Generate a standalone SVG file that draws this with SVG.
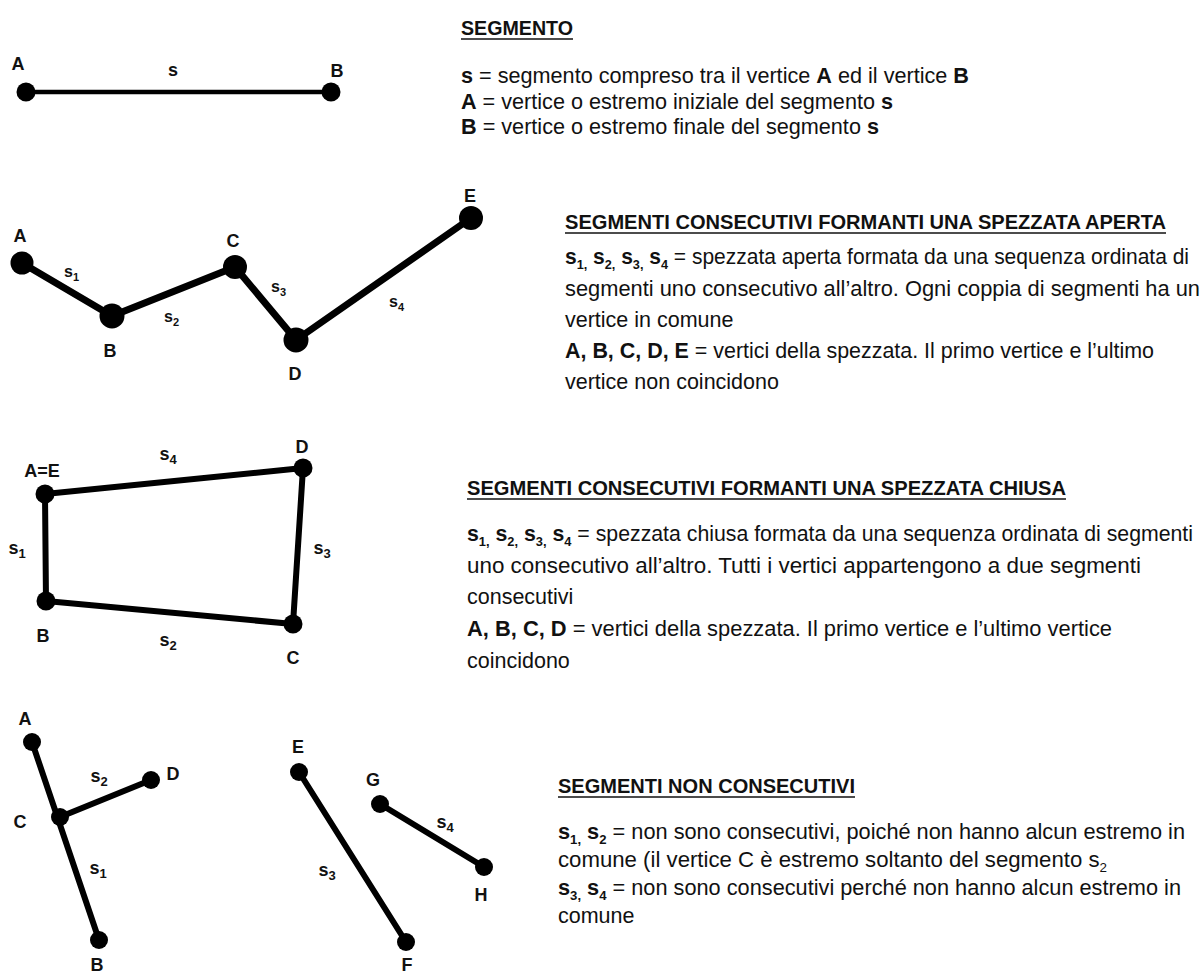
<svg xmlns="http://www.w3.org/2000/svg" width="1201" height="976" viewBox="0 0 1201 976">
<style>
text{font-family:"Liberation Sans",Arial,sans-serif;fill:#111}
.t{font-size:21.5px}
.h{font-size:20px;font-weight:bold}
.b{font-weight:bold}
.sub{font-size:13px;font-weight:bold}
.subr{font-size:13px}
.lab{font-size:18px;font-weight:bold;text-anchor:middle}
.sl{font-size:16px;font-weight:bold}
.ssub{font-size:11px;font-weight:bold}
.ln{stroke:#000;stroke-linecap:round;fill:none}
.dot{fill:#000}
.ul{stroke:#111;stroke-width:1.6}
</style>
<rect width="1201" height="976" fill="#fff"/>

<!-- connectors -->
<g id="connectors">
  <line class="ln" x1="26" y1="92" x2="331" y2="92" stroke-width="4.5"/>
  <polyline class="ln" points="22,263 112,316 235,267 296,340 471,218" stroke-width="7" stroke-linejoin="round"/>
  <polygon class="ln" points="45,494 303,468 293,624 46,601" stroke-width="6" stroke-linejoin="round"/>
  <line class="ln" x1="32" y1="742" x2="99" y2="940" stroke-width="6"/>
  <line class="ln" x1="60" y1="817" x2="151" y2="780" stroke-width="6"/>
  <line class="ln" x1="299" y1="772" x2="406" y2="942" stroke-width="6"/>
  <line class="ln" x1="380" y1="804" x2="484" y2="867" stroke-width="6"/>
</g>

<!-- section 1 figure -->
<g id="fig1">
  <circle class="dot" cx="26" cy="92" r="9.5"/>
  <circle class="dot" cx="331" cy="92" r="9.5"/>
  <text class="lab" x="18" y="70">A</text>
  <text class="lab" x="173" y="76">s</text>
  <text class="lab" x="337" y="77">B</text>
</g>

<!-- section 2 figure -->
<g id="fig2">
  <circle class="dot" cx="22" cy="263" r="11.5"/>
  <circle class="dot" cx="112" cy="316" r="12.5"/>
  <circle class="dot" cx="235" cy="267" r="12"/>
  <circle class="dot" cx="296" cy="340" r="12.5"/>
  <circle class="dot" cx="471" cy="218" r="12"/>
  <text class="lab" x="20" y="242">A</text>
  <text class="lab" x="110" y="357">B</text>
  <text class="lab" x="233" y="247">C</text>
  <text class="lab" x="295" y="380">D</text>
  <text class="lab" x="470" y="202">E</text>
  <text class="sl" x="64" y="277">s<tspan class="ssub" dy="4">1</tspan></text>
  <text class="sl" x="164" y="322">s<tspan class="ssub" dy="4">2</tspan></text>
  <text class="sl" x="271" y="292">s<tspan class="ssub" dy="4">3</tspan></text>
  <text class="sl" x="389" y="307">s<tspan class="ssub" dy="4">4</tspan></text>
</g>

<!-- section 3 figure -->
<g id="fig3">
  <circle class="dot" cx="45" cy="494" r="9.5"/>
  <circle class="dot" cx="303" cy="468" r="9.5"/>
  <circle class="dot" cx="46" cy="601" r="9.5"/>
  <circle class="dot" cx="293" cy="624" r="9.5"/>
  <text class="lab" x="42" y="477">A=E</text>
  <text class="lab" x="302" y="453">D</text>
  <text class="lab" x="43" y="642">B</text>
  <text class="lab" x="293" y="664">C</text>
  <text class="lab" x="168" y="460">s<tspan class="sub" dy="4">4</tspan></text>
  <text class="lab" x="17" y="554">s<tspan class="sub" dy="4">1</tspan></text>
  <text class="lab" x="322" y="554">s<tspan class="sub" dy="4">3</tspan></text>
  <text class="lab" x="168" y="646">s<tspan class="sub" dy="4">2</tspan></text>
</g>

<!-- section 4 figure -->
<g id="fig4">
  <circle class="dot" cx="32" cy="742" r="9"/>
  <circle class="dot" cx="60" cy="817" r="9"/>
  <circle class="dot" cx="99" cy="940" r="9"/>
  <circle class="dot" cx="151" cy="780" r="9"/>
  <circle class="dot" cx="299" cy="772" r="9"/>
  <circle class="dot" cx="406" cy="942" r="9"/>
  <circle class="dot" cx="380" cy="804" r="9"/>
  <circle class="dot" cx="484" cy="867" r="9"/>
  <text class="lab" x="25" y="725">A</text>
  <text class="lab" x="20" y="828">C</text>
  <text class="lab" x="173" y="780">D</text>
  <text class="lab" x="97" y="971">B</text>
  <text class="lab" x="298" y="753">E</text>
  <text class="lab" x="373" y="786">G</text>
  <text class="lab" x="481" y="901">H</text>
  <text class="lab" x="407" y="971">F</text>
  <text class="lab" x="99" y="782">s<tspan class="sub" dy="4">2</tspan></text>
  <text class="lab" x="98" y="874">s<tspan class="sub" dy="4">1</tspan></text>
  <text class="lab" x="327" y="876">s<tspan class="sub" dy="4">3</tspan></text>
  <text class="lab" x="445" y="828">s<tspan class="sub" dy="4">4</tspan></text>
</g>

<!-- section 1 text -->
<g id="text1">
  <text class="h" x="461" y="35" textLength="112" lengthAdjust="spacingAndGlyphs">SEGMENTO</text>
  <line class="ul" x1="461" y1="39" x2="573" y2="39"/>
  <text class="t" x="461" y="83" textLength="508" lengthAdjust="spacingAndGlyphs"><tspan class="b">s</tspan> = segmento compreso tra il vertice <tspan class="b">A</tspan> ed il vertice <tspan class="b">B</tspan></text>
  <text class="t" x="461" y="109" textLength="432" lengthAdjust="spacingAndGlyphs"><tspan class="b">A</tspan> = vertice o estremo iniziale del segmento <tspan class="b">s</tspan></text>
  <text class="t" x="461" y="134" textLength="418" lengthAdjust="spacingAndGlyphs"><tspan class="b">B</tspan> = vertice o estremo finale del segmento <tspan class="b">s</tspan></text>
</g>

<!-- section 2 text -->
<g id="text2">
  <text class="h" x="565" y="229" textLength="601" lengthAdjust="spacingAndGlyphs">SEGMENTI CONSECUTIVI FORMANTI UNA SPEZZATA APERTA</text>
  <line class="ul" x1="565" y1="233" x2="1166" y2="233"/>
  <text class="t" x="565" y="264" textLength="624" lengthAdjust="spacingAndGlyphs"><tspan class="b">s</tspan><tspan class="sub" dy="5">1,</tspan><tspan class="b" dy="-5"> s</tspan><tspan class="sub" dy="5">2,</tspan><tspan class="b" dy="-5"> s</tspan><tspan class="sub" dy="5">3,</tspan><tspan class="b" dy="-5"> s</tspan><tspan class="sub" dy="5">4</tspan><tspan dy="-5"> = spezzata aperta formata da una sequenza ordinata di</tspan></text>
  <text class="t" x="565" y="296" textLength="635" lengthAdjust="spacingAndGlyphs">segmenti uno consecutivo all’altro. Ogni coppia di segmenti ha un</text>
  <text class="t" x="565" y="327">vertice in comune</text>
  <text class="t" x="565" y="358" textLength="589" lengthAdjust="spacingAndGlyphs"><tspan class="b">A, B, C, D, E</tspan> = vertici della spezzata. Il primo vertice e l’ultimo</text>
  <text class="t" x="565" y="389">vertice non coincidono</text>
</g>

<!-- section 3 text -->
<g id="text3">
  <text class="h" x="467" y="495" textLength="599" lengthAdjust="spacingAndGlyphs">SEGMENTI CONSECUTIVI FORMANTI UNA SPEZZATA CHIUSA</text>
  <line class="ul" x1="467" y1="499" x2="1066" y2="499"/>
  <text class="t" x="467" y="541" textLength="726" lengthAdjust="spacingAndGlyphs"><tspan class="b">s</tspan><tspan class="sub" dy="5">1,</tspan><tspan class="b" dy="-5"> s</tspan><tspan class="sub" dy="5">2,</tspan><tspan class="b" dy="-5"> s</tspan><tspan class="sub" dy="5">3,</tspan><tspan class="b" dy="-5"> s</tspan><tspan class="sub" dy="5">4</tspan><tspan dy="-5"> = spezzata chiusa formata da una sequenza ordinata di segmenti</tspan></text>
  <text class="t" x="467" y="573" textLength="674" lengthAdjust="spacingAndGlyphs">uno consecutivo all’altro. Tutti i vertici appartengono a due segmenti</text>
  <text class="t" x="467" y="604">consecutivi</text>
  <text class="t" x="467" y="636" textLength="645" lengthAdjust="spacingAndGlyphs"><tspan class="b">A, B, C, D</tspan> = vertici della spezzata. Il primo vertice e l’ultimo vertice</text>
  <text class="t" x="467" y="668">coincidono</text>
</g>

<!-- section 4 text -->
<g id="text4">
  <text class="h" x="558" y="793" textLength="297" lengthAdjust="spacingAndGlyphs">SEGMENTI NON CONSECUTIVI</text>
  <line class="ul" x1="558" y1="797" x2="855" y2="797"/>
  <text class="t" x="558" y="839" textLength="627" lengthAdjust="spacingAndGlyphs"><tspan class="b">s</tspan><tspan class="sub" dy="5">1,</tspan><tspan class="b" dy="-5"> s</tspan><tspan class="sub" dy="5">2</tspan><tspan dy="-5"> = non sono consecutivi, poiché non hanno alcun estremo in</tspan></text>
  <text class="t" x="558" y="867" textLength="549" lengthAdjust="spacingAndGlyphs">comune (il vertice C è estremo soltanto del segmento s<tspan class="subr" dy="5">2</tspan></text>
  <text class="t" x="558" y="895" textLength="623" lengthAdjust="spacingAndGlyphs"><tspan class="b">s</tspan><tspan class="sub" dy="5">3,</tspan><tspan class="b" dy="-5"> s</tspan><tspan class="sub" dy="5">4</tspan><tspan dy="-5"> = non sono consecutivi perché non hanno alcun estremo in</tspan></text>
  <text class="t" x="558" y="923">comune</text>
</g>
</svg>
